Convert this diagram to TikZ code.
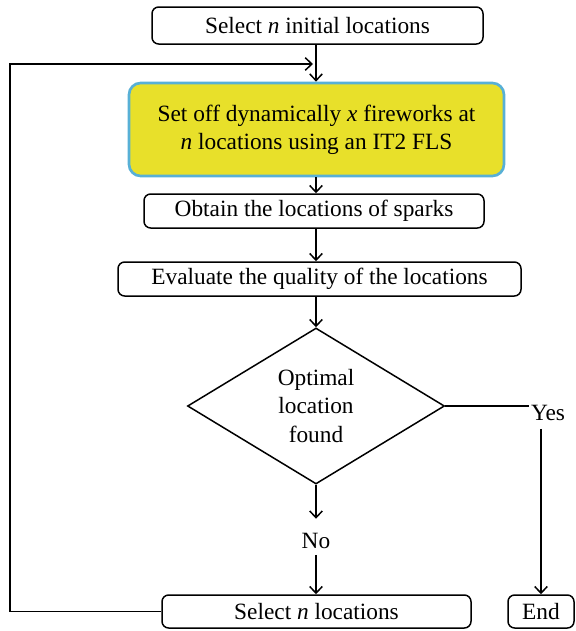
\documentclass[tikz,border=0pt]{standalone}
\usepackage{fontspec}
\setmainfont{Liberation Serif}
\usetikzlibrary{shapes.geometric, arrows.meta}

\definecolor{fwyellow}{RGB}{232,224,42}
\definecolor{fwblue}{RGB}{88,176,214}

\tikzset{
  block/.style={draw, rounded corners=4pt, line width=0.9pt, inner sep=0pt,
    align=center, font=\fontsize{14}{17}\selectfont},
  fire/.style={block, fill=fwyellow, draw=fwblue, line width=1.6pt, rounded corners=7pt},
  decision/.style={draw, diamond, line width=0.9pt, inner sep=0pt, align=center,
    font=\fontsize{14}{17}\selectfont},
  label/.style={inner sep=1pt, font=\fontsize{14}{17}\selectfont},
  flow/.style={-{Straight Barb[length=4pt, width=7.5pt]}, line width=0.9pt}
}

\begin{document}
\begin{tikzpicture}[x=0.6pt, y=-0.6pt]
        \useasboundingbox (0, 0) rectangle (576, 631);

        \node[block, minimum width=198.6pt, minimum height=22.2pt] (init) at (317.5, 25.5) {Select \textit{n} initial\ locations};
        \node[fire, minimum width=225pt, minimum height=55.8pt] (fire) at (316.5, 129.5) {Set off dynamically \textit{x} fireworks at\\\textit{n} locations using an IT2 FLS};
        \node[block, minimum width=204pt, minimum height=20.4pt] (sparks) at (314, 211) {Obtain the locations of sparks};
        \node[block, minimum width=241.8pt, minimum height=20.4pt] (eval) at (319.5, 279) {Evaluate the quality of the locations};
        \node[decision, minimum width=154.2pt, minimum height=93.6pt] (found) at (316, 406) {Optimal\\location\\found};
        \node[label] (yes) at (548, 413) {Yes};
        \node[label] (no) at (316, 541) {No};
        \node[block, minimum width=185.4pt, minimum height=19.8pt] (select) at (316.5, 611.5) {Select \textit{n} locations};
        \node[block, minimum width=39.6pt, minimum height=19.8pt] (end) at (541, 611.5) {End};

        \coordinate (loop) at (313, 64);

        % main line down the middle
        \draw[flow] (init.south -| found.north) -- (fire.north -| found.north);
        \draw[flow] (fire.south -| found.north) -- (sparks.north -| found.north);
        \draw[flow] (sparks.south -| found.north) -- (eval.north -| found.north);
        \draw[flow] (eval.south -| found.north) -- (found.north);
        \draw[flow] (found.south) -- ++(0, 34);
        \draw[flow] (no.south) ++(0, 4) -- (no.south |- select.north);
        \draw[line width=0.9pt] (found.east) -- (found.east -| yes.west);
        \draw[flow] (end.north |- yes.south) ++(0, 6) -- (end.north);
        \draw[flow] (select.west) -| (10, 64) -- (loop);

    \end{tikzpicture}
\end{document}
